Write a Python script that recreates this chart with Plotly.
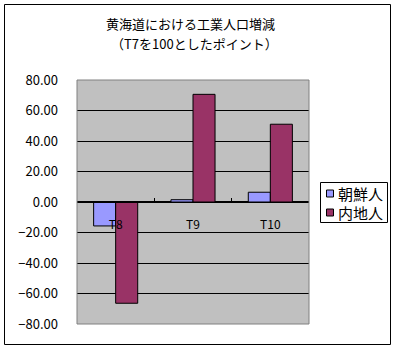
import plotly.graph_objects as go

categories = ["T8", "T9", "T10"]
korean = [-15.7, 1.5, 6.4]
naichi = [-66.4, 70.6, 51.0]
series_names = ["朝鮮人", "内地人"]
series_colors = ["#9999FF", "#993366"]
title_lines = ["黄海道における工業人口増減", "（T7を100としたポイント）"]

W, H = 403, 349
L, R, T, B = 77, 94, 80, 25
pw, ph = W - L - R, H - T - B

def px_x(x):
    return (x - L) / pw

def px_y(y):
    return (H - B - y) / ph

font = "Noto Sans CJK JP, sans-serif"

fig = go.Figure()
for name, vals, col in zip(series_names, [korean, naichi], series_colors):
    fig.add_trace(go.Bar(x=categories, y=vals, name=name, showlegend=False,
                         marker=dict(color=col, line=dict(color="black", width=1))))

shapes = [
    dict(type="rect", xref="paper", yref="paper", x0=0, x1=1, y0=0, y1=1,
         line=dict(color="#808080", width=1), layer="above"),
    dict(type="rect", xref="paper", yref="paper", x0=px_x(4.5), x1=px_x(390.5),
         y0=px_y(344.5), y1=px_y(4.5), line=dict(color="black", width=1), layer="above"),
    # legend box
    dict(type="rect", xref="paper", yref="paper", x0=px_x(320.5), x1=px_x(387.5),
         y0=px_y(222.5), y1=px_y(182.5), line=dict(color="black", width=1),
         fillcolor="white", layer="above"),
]
annotations = [
    dict(text=title_lines[0], xref="paper", yref="paper", x=px_x(190), y=px_y(23),
         xanchor="center", yanchor="middle", showarrow=False, font=dict(size=13)),
    dict(text=title_lines[1], xref="paper", yref="paper", x=px_x(194), y=px_y(43),
         xanchor="center", yanchor="middle", showarrow=False, font=dict(size=13)),
]
legend_rows = [193.5, 212.5]
for name, col, yc in zip(series_names, series_colors, legend_rows):
    shapes.append(dict(type="rect", xref="paper", yref="paper",
                       x0=px_x(326.5), x1=px_x(333.5), y0=px_y(yc + 3.5), y1=px_y(yc - 3.5),
                       line=dict(color="black", width=1), fillcolor=col, layer="above"))
    annotations.append(dict(text=name, xref="paper", yref="paper", x=px_x(336), y=px_y(yc),
                            xanchor="left", yanchor="middle", showarrow=False,
                            font=dict(size=15)))

fig.update_layout(
    width=W, height=H,
    margin=dict(l=L, r=R, t=T, b=B, autoexpand=False),
    paper_bgcolor="white",
    plot_bgcolor="#C0C0C0",
    bargap=0.43, bargroupgap=0,
    font=dict(family=font, size=12, color="black"),
    showlegend=False,
    xaxis=dict(anchor="free", position=0.5, showline=True, linecolor="black", linewidth=1,
               ticks="inside", ticklen=4, tickcolor="black", tickson="boundaries",
               showgrid=False, ticklabelstandoff=12, tickfont=dict(size=12)),
    yaxis=dict(range=[-80, 80], dtick=20, tickformat=".2f", showgrid=True,
               gridcolor="black", gridwidth=1, zeroline=True, zerolinecolor="black",
               ticks="", ticklabelstandoff=18, tickfont=dict(size=13)),
    shapes=shapes,
    annotations=annotations,
)

fig.write_html("out.html")
